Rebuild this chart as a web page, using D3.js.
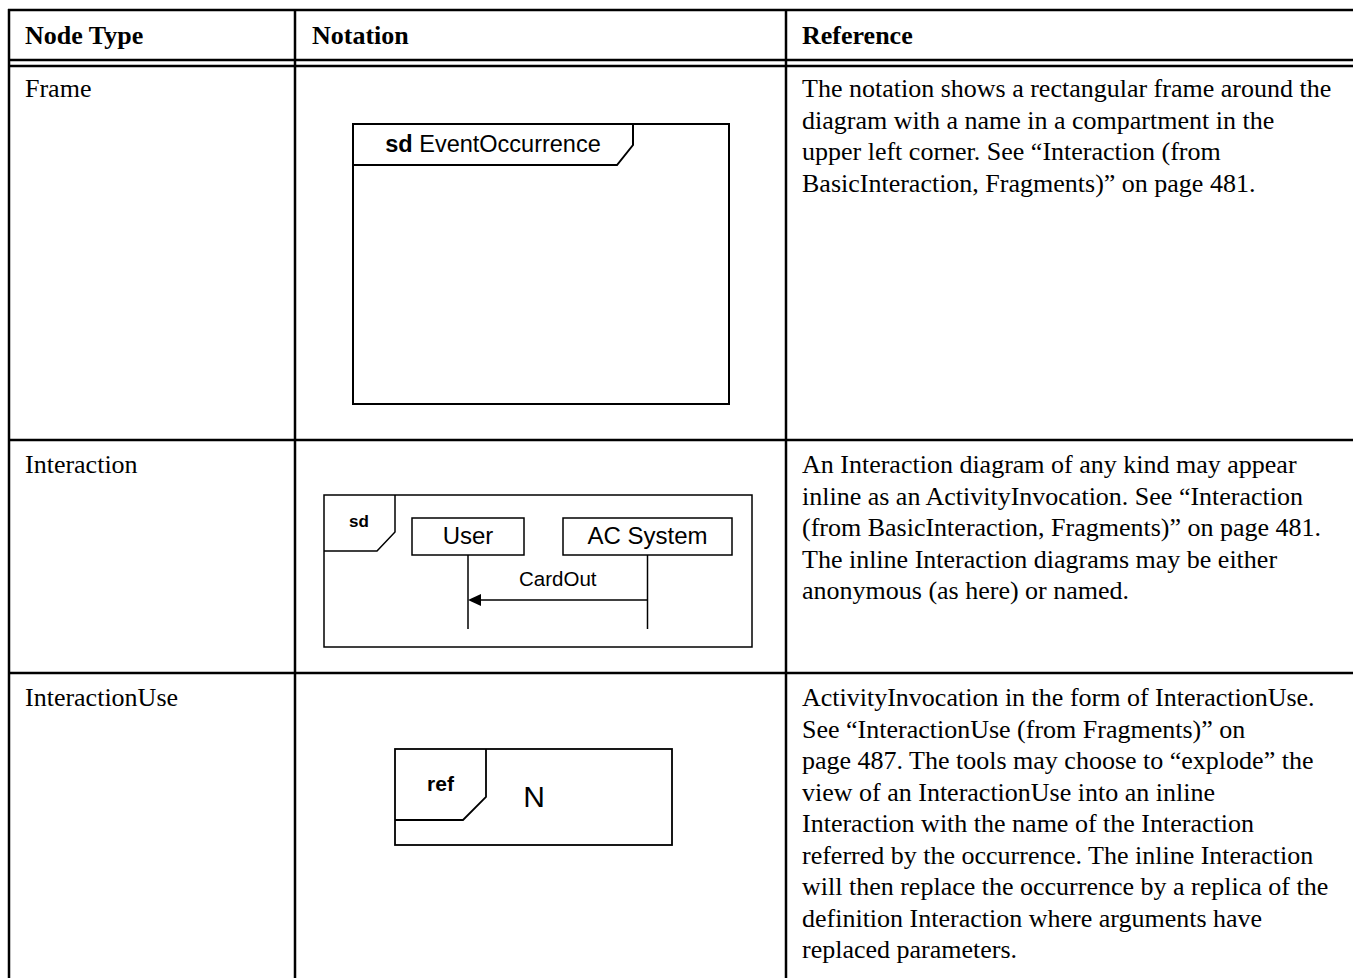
<!DOCTYPE html>
<html><head><meta charset="utf-8">
<script src="https://cdn.jsdelivr.net/npm/d3@7"></script>
<style>body{margin:0;background:#fff;overflow:hidden}</style>
</head><body>
<svg id="c" width="1353" height="978"></svg>
<script>
// ---- table content ----
const headers = ["Node Type", "Notation", "Reference"];
const nodeTypes = ["Frame", "Interaction", "InteractionUse"];
const references = [
  ["The notation shows a rectangular frame around the",
   "diagram with a name in a compartment in the",
   "upper left corner. See \u201cInteraction (from",
   "BasicInteraction, Fragments)\u201d on page 481."],
  ["An Interaction diagram of any kind may appear",
   "inline as an ActivityInvocation. See \u201cInteraction",
   "(from BasicInteraction, Fragments)\u201d on page 481.",
   "The inline Interaction diagrams may be either",
   "anonymous (as here) or named."],
  ["ActivityInvocation in the form of InteractionUse.",
   "See \u201cInteractionUse (from Fragments)\u201d on",
   "page 487. The tools may choose to \u201cexplode\u201d the",
   "view of an InteractionUse into an inline",
   "Interaction with the name of the Interaction",
   "referred by the occurrence. The inline Interaction",
   "will then replace the occurrence by a replica of the",
   "definition Interaction where arguments have",
   "replaced parameters."]
];
// diagram labels
const frameKeyword = "sd";
const frameName = "EventOccurrence";
const lifelines = ["User", "AC System"];
const messageLabel = "CardOut";
const refKeyword = "ref";
const refName = "N";

// ---- layout ----
const W = 1353, H = 978;
const colX = [9, 295, 786];          // vertical rules
const textX = [25, 312, 802];
const rowTop = [66, 440, 673];       // row tops (below header)
const firstBase = [97, 473, 706];
const lineH = 31.5;
const serif = "'Liberation Serif','Times New Roman',Times,serif";
const sans = "'Liberation Sans',Arial,Helvetica,sans-serif";

const svg = d3.select("#c");
const grid = svg.append("g").attr("stroke", "#000").attr("stroke-width", 2.5);
// horizontal rules
const hRules = [10, 60, 66, 440, 673];
grid.selectAll("line.h").data(hRules).join("line")
  .attr("x1", 8).attr("x2", W).attr("y1", d => d).attr("y2", d => d);
grid.selectAll("line.v").data(colX).join("line")
  .attr("x1", d => d).attr("x2", d => d).attr("y1", 9).attr("y2", H);

// header
svg.append("g").selectAll("text").data(headers).join("text")
  .attr("x", (d, i) => textX[i]).attr("y", 44)
  .attr("font-family", serif).attr("font-weight", "bold").attr("font-size", 26)
  .attr("fill", "#000").text(d => d);

// row names
svg.append("g").selectAll("text").data(nodeTypes).join("text")
  .attr("x", textX[0]).attr("y", (d, i) => firstBase[i])
  .attr("font-family", serif).attr("font-size", 26).attr("fill", "#000").text(d => d);

// reference paragraphs
references.forEach((lines, r) => {
  svg.append("g").selectAll("text").data(lines).join("text")
    .attr("x", textX[2]).attr("y", (d, i) => firstBase[r] + i * lineH)
    .attr("font-family", serif).attr("font-size", 26).attr("fill", "#000").text(d => d);
});

// ---- diagram 1 : frame ----
const d1 = svg.append("g").attr("fill", "none").attr("stroke", "#000").attr("stroke-width", 2);
d1.append("rect").attr("x", 353).attr("y", 124).attr("width", 376).attr("height", 280);
d1.append("path").attr("d", d3.line()([[353,165],[617,165],[633,145],[633,124]]));
const t1 = svg.append("text").attr("x", 493).attr("y", 152).attr("text-anchor", "middle")
  .attr("font-family", sans).attr("font-size", 23.5).attr("fill", "#000");
t1.append("tspan").attr("font-weight", "bold").text(frameKeyword);
t1.append("tspan").text(" " + frameName);

// ---- diagram 2 : interaction ----
const d2 = svg.append("g").attr("fill", "none").attr("stroke", "#000").attr("stroke-width", 1.5);
d2.append("rect").attr("x", 324).attr("y", 495).attr("width", 428).attr("height", 152);
d2.append("path").attr("d", d3.line()([[324,551],[377,551],[395,532],[395,495]]));
svg.append("text").attr("x", 359).attr("y", 527).attr("text-anchor", "middle")
  .attr("font-family", sans).attr("font-weight", "bold").attr("font-size", 17).attr("fill", "#000").text(frameKeyword);
const boxes = [{x: 412, w: 112}, {x: 563, w: 169}];
d2.selectAll("rect.ll").data(lifelines).join("rect").attr("class", "ll")
  .attr("x", (d, i) => boxes[i].x).attr("y", 518).attr("width", (d, i) => boxes[i].w).attr("height", 37);
d2.selectAll("line.ll").data(lifelines).join("line").attr("class", "ll")
  .attr("x1", (d, i) => boxes[i].x + boxes[i].w / 2).attr("x2", (d, i) => boxes[i].x + boxes[i].w / 2)
  .attr("y1", 555).attr("y2", 629);
svg.append("g").selectAll("text").data(lifelines).join("text")
  .attr("x", (d, i) => boxes[i].x + boxes[i].w / 2).attr("y", 544).attr("text-anchor", "middle")
  .attr("font-family", sans).attr("font-size", 24).attr("fill", "#000").text(d => d);
const xu = boxes[0].x + boxes[0].w / 2, xa = boxes[1].x + boxes[1].w / 2;
d2.append("line").attr("x1", xa).attr("x2", xu + 10).attr("y1", 600).attr("y2", 600);
svg.append("path").attr("d", d3.line()([[xu, 600], [xu + 13, 594], [xu + 13, 606]]) + "Z").attr("fill", "#000");
svg.append("text").attr("x", (xu + xa) / 2).attr("y", 586).attr("text-anchor", "middle")
  .attr("font-family", sans).attr("font-size", 20.5).attr("fill", "#000").text(messageLabel);

// ---- diagram 3 : interaction use ----
const d3g = svg.append("g").attr("fill", "none").attr("stroke", "#000").attr("stroke-width", 1.8);
d3g.append("rect").attr("x", 395).attr("y", 749).attr("width", 277).attr("height", 96);
d3g.append("path").attr("d", d3.line()([[395,820],[463,820],[486,797],[486,749]]));
svg.append("text").attr("x", 440.5).attr("y", 791).attr("text-anchor", "middle")
  .attr("font-family", sans).attr("font-weight", "bold").attr("font-size", 21).attr("fill", "#000").text(refKeyword);
svg.append("text").attr("x", 534).attr("y", 807).attr("text-anchor", "middle")
  .attr("font-family", sans).attr("font-size", 30).attr("fill", "#000").text(refName);
</script>
</body></html>
